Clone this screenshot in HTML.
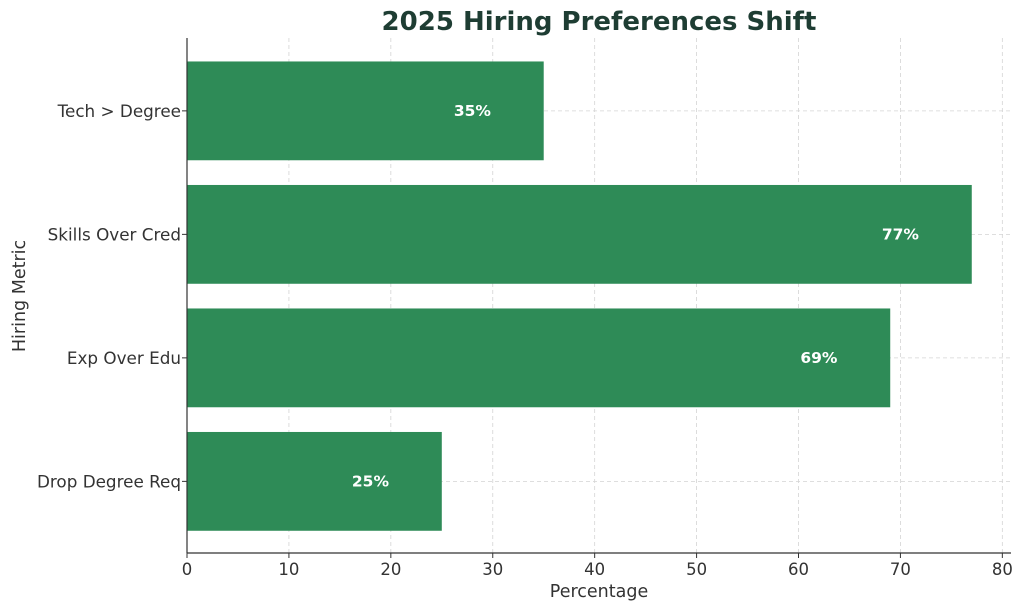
<!DOCTYPE html>
<html><head><meta charset="utf-8"><style>
body{margin:0;background:#fff;}
svg text{font-family:"DejaVu Sans","Liberation Sans",sans-serif;}
</style></head><body>
<svg id="chart" width="1024" height="610">
<text x="599" y="30" text-anchor="middle" font-size="26" font-weight="bold" fill="#1e3d33">2025 Hiring Preferences Shift</text>
<g id="grid"></g><g id="bars"></g><g id="axes"></g>
<text x="599" y="597" text-anchor="middle" font-size="17.5" fill="#333">Percentage</text>
<text transform="translate(25,296) rotate(-90)" text-anchor="middle" font-size="17.5" fill="#333">Hiring Metric</text>
</svg>
<script>
const categories=["Drop Degree Req","Exp Over Edu","Skills Over Cred","Tech > Degree"];
const values=[25,69,77,35];
const xTicks=[0,10,20,30,40,50,60,70,80];
const NS="http://www.w3.org/2000/svg";
const L=187,R=1011,T=38,B=553,xmin=0,xmax=80.85,ymin=-0.58,ymax=3.59;
const xs=v=>L+(v-xmin)/(xmax-xmin)*(R-L);
const ys=i=>B-(i-ymin)/(ymax-ymin)*(B-T);
const bw=(B-T)/(ymax-ymin)*0.8;
function mk(t,a,p){const e=document.createElementNS(NS,t);for(const k in a)e.setAttribute(k,a[k]);p.appendChild(e);return e;}
const g=document.getElementById('grid'),bg=document.getElementById('bars'),ax=document.getElementById('axes');
xTicks.forEach(t=>{
 const l=mk('line',{x1:xs(t),x2:xs(t),y1:T,y2:B,stroke:'#d4d4d4','stroke-dasharray':'4,3','stroke-width':0.8},g);
 
 
 mk('line',{x1:xs(t),x2:xs(t),y1:B,y2:B+5,stroke:'#333'},ax);
 const tx=mk('text',{x:xs(t),y:B+22,'text-anchor':'middle','font-size':16.5,fill:'#333'},ax);tx.textContent=t;
 
 
});
categories.forEach((c,i)=>{
 const l=mk('line',{x1:L,x2:R,y1:ys(i),y2:ys(i),stroke:'#d4d4d4','stroke-dasharray':'4,3','stroke-width':0.8},g);
 
 
 const r=mk('rect',{x:xs(0),y:ys(i)-bw/2,width:xs(values[i])-xs(0),height:bw,fill:'#2e8b57'},bg);
 
 
 const lb=mk('text',{x:xs(values[i]-7),y:ys(i)+5,'text-anchor':'middle','font-size':15.5,'font-weight':'bold',fill:'#fff'},bg);lb.textContent=values[i]+'%';
 
 
 mk('line',{x1:L-5,x2:L,y1:ys(i),y2:ys(i),stroke:'#333'},ax);
 const ct=mk('text',{x:L-6,y:ys(i)+6,'text-anchor':'end','font-size':16.8,fill:'#333'},ax);ct.textContent=c;
 
 
});
mk('line',{x1:L,x2:L,y1:T,y2:B,stroke:'#333','stroke-width':1.2},ax);
mk('line',{x1:L,x2:R,y1:B,y2:B,stroke:'#333','stroke-width':1.2},ax);
</script>
</body></html>
